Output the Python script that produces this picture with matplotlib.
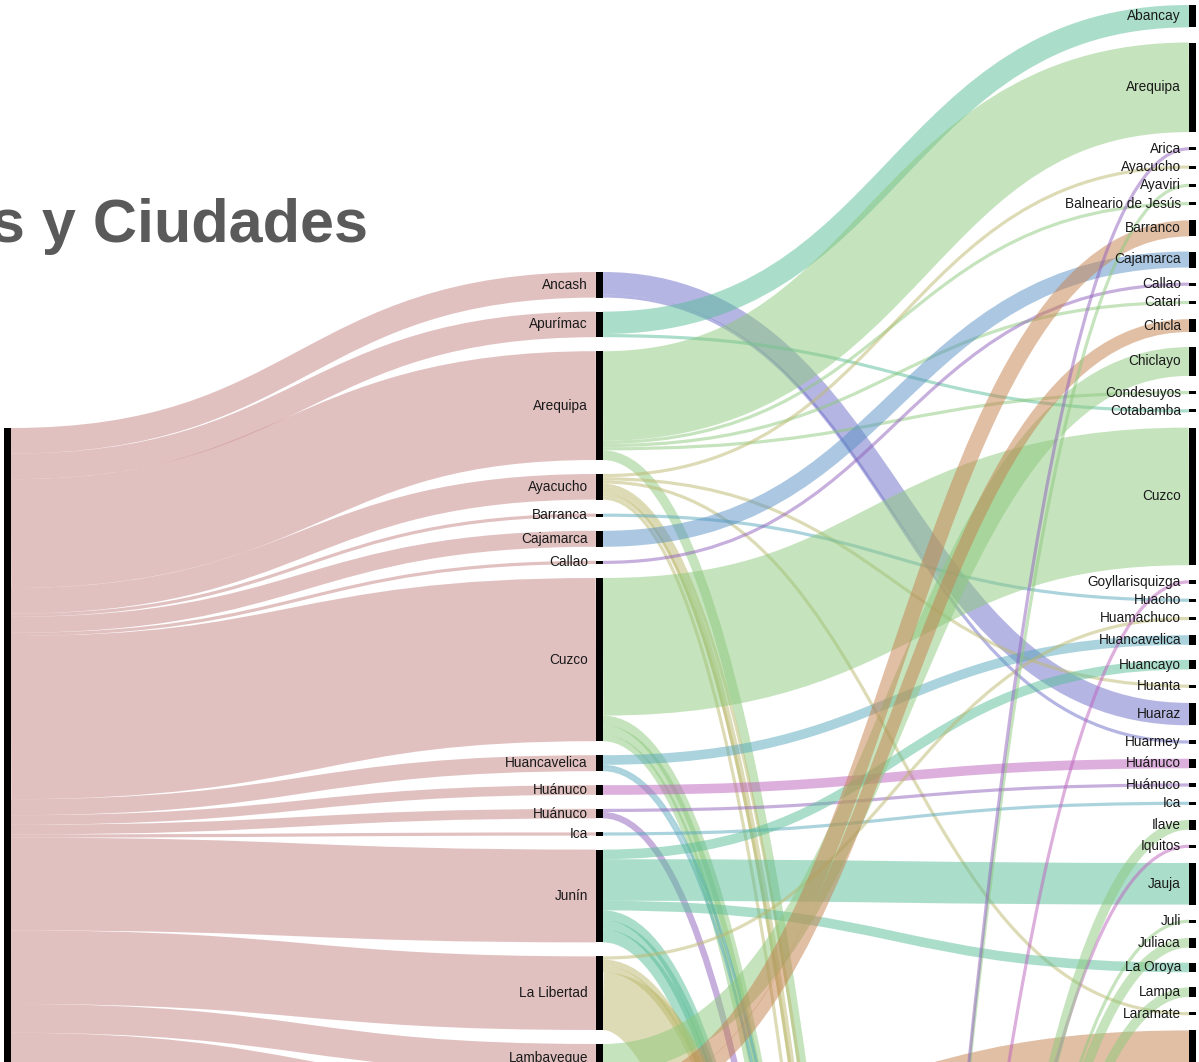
import matplotlib
matplotlib.use("Agg")
import matplotlib.pyplot as plt
from matplotlib.path import Path
from matplotlib.patches import PathPatch, Rectangle

# Departamentos (columna central), en el orden del grafico
mid_nodes = ["Ancash", "Apurímac", "Arequipa", "Ayacucho", "Barranca", "Cajamarca",
             "Callao", "Cuzco", "Huancavelica", "Huánuco", "Huánuco#2", "Ica", "Junín",
             "La Libertad", "Lambayeque", "Lima", "Loreto", "Moquegua", "Pasco",
             "Piura", "Puno", "Tacna", "Ucayali"]

# Ciudades (columna derecha)
city_nodes = ["Abancay", "Arequipa", "Arica", "Ayacucho", "Ayaviri", "Balneario de Jesús",
              "Barranco", "Cajamarca", "Callao", "Catari", "Chicla", "Chiclayo",
              "Condesuyos", "Cotabamba", "Cuzco", "Goyllarisquizga", "Huacho",
              "Huamachuco", "Huancavelica", "Huancayo", "Huanta", "Huaraz", "Huarmey",
              "Huánuco", "Huánuco#2", "Ica", "Ilave", "Iquitos", "Jauja", "Juli",
              "Juliaca", "La Oroya", "Lampa", "Laramate", "Lima", "Lircay", "Lucanas",
              "Mollendo", "Moquegua", "Otuzco", "Oxapampa", "Pacasmayo", "Pampas",
              "Piura", "Pucallpa", "Puno", "Puquio", "Quillabamba", "San Miguel",
              "San Ramón", "Satipo", "Sicuani", "Sullana", "Tacna", "Talara", "Tarma",
              "Tingo María", "Trujillo", "Urubamba", "Vilcashuamán", "Yurimaguas"]

# flujos departamento -> ciudad
flows = [
    ("Ancash", "Huaraz", 7), ("Ancash", "Huarmey", 1),
    ("Apurímac", "Abancay", 7), ("Apurímac", "Cotabamba", 1),
    ("Arequipa", "Arequipa", 28), ("Arequipa", "Balneario de Jesús", 1),
    ("Arequipa", "Catari", 1), ("Arequipa", "Condesuyos", 1), ("Arequipa", "Mollendo", 3),
    ("Ayacucho", "Ayacucho", 1), ("Ayacucho", "Huanta", 1), ("Ayacucho", "Laramate", 1),
    ("Ayacucho", "Lucanas", 1), ("Ayacucho", "Puquio", 2), ("Ayacucho", "San Miguel", 1),
    ("Ayacucho", "Vilcashuamán", 1),
    ("Barranca", "Huacho", 1),
    ("Cajamarca", "Cajamarca", 5),
    ("Callao", "Callao", 1),
    ("Cuzco", "Cuzco", 43), ("Cuzco", "Quillabamba", 3), ("Cuzco", "Sicuani", 3),
    ("Cuzco", "Urubamba", 2),
    ("Huancavelica", "Huancavelica", 3), ("Huancavelica", "Lircay", 1),
    ("Huancavelica", "Pampas", 1),
    ("Huánuco", "Huánuco", 3),
    ("Huánuco#2", "Huánuco#2", 1), ("Huánuco#2", "Tingo María", 2),
    ("Ica", "Ica", 1),
    ("Junín", "Huancayo", 3), ("Junín", "Jauja", 13), ("Junín", "La Oroya", 3),
    ("Junín", "San Ramón", 3), ("Junín", "Satipo", 3), ("Junín", "Tarma", 4),
    ("La Libertad", "Huamachuco", 1), ("La Libertad", "Otuzco", 2),
    ("La Libertad", "Pacasmayo", 2), ("La Libertad", "Trujillo", 18),
    ("Lambayeque", "Chiclayo", 9),
    ("Lima", "Barranco", 5), ("Lima", "Chicla", 4), ("Lima", "Lima", 700),
    ("Loreto", "Iquitos", 1), ("Loreto", "Yurimaguas", 3),
    ("Moquegua", "Moquegua", 3),
    ("Pasco", "Goyllarisquizga", 1), ("Pasco", "Oxapampa", 3),
    ("Piura", "Piura", 5), ("Piura", "Sullana", 2), ("Piura", "Talara", 2),
    ("Puno", "Ayaviri", 1), ("Puno", "Ilave", 3), ("Puno", "Juli", 1),
    ("Puno", "Juliaca", 3), ("Puno", "Lampa", 3), ("Puno", "Puno", 6),
    ("Tacna", "Arica", 1), ("Tacna", "Tacna", 4),
    ("Ucayali", "Pucallpa", 3),
]

# color de los enlaces segun el departamento de origen
pink = "#c58383"
palette = {
    "Ancash": "#6d6dc9", "Apurímac": "#59bd99", "Arequipa": "#8dc97d",
    "Ayacucho": "#bdb96d", "Barranca": "#59a9bd", "Cajamarca": "#5991c5",
    "Callao": "#9161bd", "Cuzco": "#8dc97d", "Huancavelica": "#59a9bd",
    "Huánuco": "#bd61bd", "Huánuco#2": "#9161bd", "Ica": "#59a9bd",
    "Junín": "#59bd99", "La Libertad": "#bdb96d", "Lambayeque": "#8dc97d",
    "Lima": "#c5814d", "Loreto": "#bd61bd", "Moquegua": "#5991c5",
    "Pasco": "#bd61bd", "Piura": "#bdb96d", "Puno": "#8dc97d",
    "Tacna": "#9161bd", "Ucayali": "#59bd99",
}

# --- layout (pixeles) ---
DPI = 100
W, H = 1199, 1062
K = 3.2          # px por unidad
NODE_W = 7
X_LEFT, X_MID, X_RIGHT = 4, 596, 1189
TOP_LEFT, TOP_MID, TOP_RIGHT = 428, 272, 5
GAP_MID, GAP_RIGHT = 14, 15.1

mid_val = {m: sum(v for s, t, v in flows if s == m) for m in mid_nodes}
city_val = {c: sum(v for s, t, v in flows if t == c) for c in city_nodes}


def stack(nodes, vals, top, gap):
    pos, y = {}, top
    for n in nodes:
        pos[n] = y
        y += vals[n] * K + gap
    return pos


mid_y = stack(mid_nodes, mid_val, TOP_MID, GAP_MID)
city_y = stack(city_nodes, city_val, TOP_RIGHT, GAP_RIGHT)

fig = plt.figure(figsize=(W / DPI, H / DPI), dpi=DPI)
ax = fig.add_axes([0, 0, 1, 1])
ax.set_xlim(0, W)
ax.set_ylim(H, 0)
ax.axis("off")


def band(x0, y0, x1, y1, w, color):
    # y0, y1 = borde superior de la banda
    xm = (x0 + x1) / 2
    if w < 200:
        a, b = y0 + w / 2, y1 + w / 2
        p = Path([(x0, a), (xm, a), (xm, b), (x1, b)],
                 [Path.MOVETO, Path.CURVE4, Path.CURVE4, Path.CURVE4])
        ax.add_patch(PathPatch(p, fill=False, edgecolor=color, alpha=0.5,
                               lw=w * 72 / DPI, capstyle="butt"))
    else:
        # banda muy ancha: relleno entre dos curvas
        verts = [(x0, y0), (xm, y0), (xm, y1), (x1, y1),
                 (x1, y1 + w), (xm, y1 + w), (xm, y0 + w), (x0, y0 + w), (x0, y0)]
        codes = [Path.MOVETO, Path.CURVE4, Path.CURVE4, Path.CURVE4,
                 Path.LINETO, Path.CURVE4, Path.CURVE4, Path.CURVE4, Path.CLOSEPOLY]
        ax.add_patch(PathPatch(Path(verts, codes), facecolor=color, edgecolor="none",
                               alpha=0.5))


# Perú -> departamentos
y = TOP_LEFT
for m in mid_nodes:
    w = mid_val[m] * K
    band(X_LEFT + NODE_W, y, X_MID, mid_y[m], w, pink)
    y += w
total = sum(mid_val.values())

# departamentos -> ciudades
out_off = {m: 0.0 for m in mid_nodes}
in_off = {c: 0.0 for c in city_nodes}
by_src = sorted(flows, key=lambda f: (mid_nodes.index(f[0]), city_nodes.index(f[1])))
in_order = sorted(flows, key=lambda f: (city_nodes.index(f[1]), mid_nodes.index(f[0])))
tgt_pos = {}
for s, t, v in in_order:
    tgt_pos[(s, t)] = city_y[t] + in_off[t]
    in_off[t] += v * K
for s, t, v in by_src:
    w = v * K
    y0 = mid_y[s] + out_off[s]
    out_off[s] += w
    band(X_MID + NODE_W, y0, X_RIGHT, tgt_pos[(s, t)], w, palette[s])

# nodos
ax.add_patch(Rectangle((X_LEFT, TOP_LEFT), NODE_W, total * K, color="black", lw=0))
label_kw = dict(ha="right", va="center", fontsize=9.8, color="#1a1a1a",
                family="Liberation Sans")
for m in mid_nodes:
    h = mid_val[m] * K
    ax.add_patch(Rectangle((X_MID, mid_y[m]), NODE_W, h, color="black", lw=0))
    if mid_y[m] + h / 2 < H:
        ax.text(X_MID - 8, mid_y[m] + h / 2, m.split("#")[0], **label_kw)
for c in city_nodes:
    h = city_val[c] * K
    ax.add_patch(Rectangle((X_RIGHT, city_y[c]), NODE_W, h, color="black", lw=0))
    if city_y[c] + h / 2 < H:
        ax.text(X_RIGHT - 8, city_y[c] + h / 2, c.split("#")[0], **label_kw)

ax.text(368, 242, "Departamentos y Ciudades", ha="right", va="baseline",
        fontsize=44, fontweight="bold", color="#5a5a5a", family="Liberation Sans")

fig.savefig("out.png", dpi=DPI)
